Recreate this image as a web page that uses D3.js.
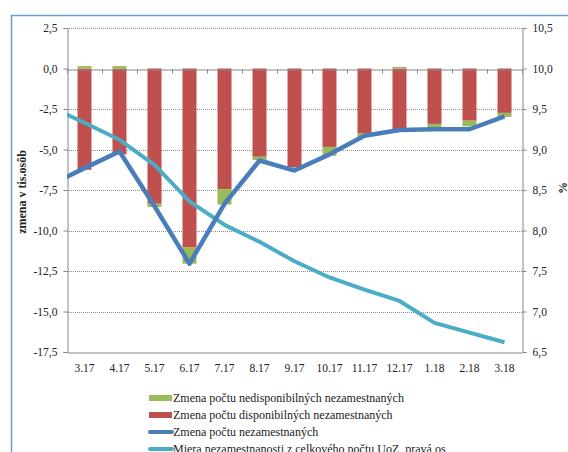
<!DOCTYPE html>
<html>
<head>
<meta charset="utf-8">
<script src="https://cdn.jsdelivr.net/npm/d3@7"></script>
<style>
  body { margin: 0; background: #fff; }
  svg { display: block; font-family: "Liberation Serif", "Times New Roman", serif; }
</style>
</head>
<body>
<div id="chart"></div>
<script>
// months on the category axis
const months = ['3.17', '4.17', '5.17', '6.17', '7.17', '8.17', '9.17', '10.17', '11.17', '12.17', '1.18', '2.18', '3.18']
// the lines start one month earlier, that point is clipped at the plot edge
const lineMonths = ['2.17', ...months]

// change in thousands of persons (left axis)
const nedisponibilni = [0.15, 0.15, -0.2, -1.0, -0.95, -0.2, -0.12, -0.55, -0.2, 0.1, -0.3, -0.35, -0.25]
const disponibilni = [-6.25, -5.3, -8.35, -11.05, -7.45, -5.45, -6.1, -4.84, -4.02, -3.77, -3.42, -3.22, -2.74]
const nezamestnani = [-7.2, -6.15, -5.12, -8.5, -12.05, -8.35, -5.68, -6.3, -5.3, -4.15, -3.8, -3.75, -3.75, -2.95]
// unemployment rate in % (right axis)
const miera = [9.53, 9.33, 9.12, 8.81, 8.36, 8.07, 7.86, 7.62, 7.42, 7.27, 7.13, 6.86, 6.74, 6.62]

const leftTicks = [2.5, 0, -2.5, -5, -7.5, -10, -12.5, -15, -17.5]
const rightTicks = [10.5, 10, 9.5, 9, 8.5, 8, 7.5, 7, 6.5]

const legendItems = [
  { label: 'Zmena počtu nedisponibilných nezamestnaných', color: '#9bbb59', kind: 'bar' },
  { label: 'Zmena počtu disponibilných nezamestnaných', color: '#c0504d', kind: 'bar' },
  { label: 'Zmena počtu nezamestnaných', color: '#4a7ebb', kind: 'line' },
  { label: 'Miera nezamestnanosti z celkového počtu UoZ, pravá os', color: '#4bacc6', kind: 'line' },
]

const width = 568
const height = 452
const margin = { top: 28, right: 46, bottom: 100, left: 67 }
const plotRight = width - margin.right
const plotBottom = height - margin.bottom

const fmt = (v) => d3.format('.1f')(v).replace('.', ',').replace('−', '-')

const svg = d3.select('#chart')
  .append('svg')
  .attr('width', width)
  .attr('height', height)

// outer chart frame
svg.append('rect')
  .attr('x', 11.5)
  .attr('y', 15.5)
  .attr('width', width + 20)
  .attr('height', height + 20)
  .attr('fill', 'none')
  .attr('stroke', '#6a9bd6')
  .attr('stroke-width', 1.5)

const x = d3.scaleBand()
  .domain(months)
  .range([margin.left, plotRight])
  .paddingInner(0.6)
  .paddingOuter(0.3)

const step = x.step()
const xLine = d3.scaleBand()
  .domain(lineMonths)
  .range([margin.left - step, plotRight])
  .paddingInner(0.6)
  .paddingOuter(0.3)

const y = d3.scaleLinear().domain([-17.5, 2.5]).range([plotBottom, margin.top])
const y2 = d3.scaleLinear().domain([6.5, 10.5]).range([plotBottom, margin.top])

// dotted gridlines
svg.append('g')
  .selectAll('line')
  .data(leftTicks.filter((d) => d !== 0 && d !== -17.5))
  .join('line')
  .attr('x1', margin.left)
  .attr('x2', plotRight)
  .attr('y1', (d) => Math.round(y(d)) + 0.5)
  .attr('y2', (d) => Math.round(y(d)) + 0.5)
  .attr('stroke', '#8c8c8c')
  .attr('stroke-dasharray', '1,1')

// left axis
const leftAxis = svg.append('g')
  .attr('transform', `translate(${margin.left + 0.5},0)`)
  .call(d3.axisLeft(y).tickValues(leftTicks).tickFormat(fmt).tickSize(4).tickPadding(6))
leftAxis.select('.domain').attr('stroke', '#868686')
leftAxis.selectAll('.tick line').attr('stroke', '#868686')
leftAxis.selectAll('text').attr('font-size', 11.5).attr('fill', '#222').attr('font-family', 'Liberation Serif')

// right axis
const rightAxis = svg.append('g')
  .attr('transform', `translate(${plotRight + 0.5},0)`)
  .call(d3.axisRight(y2).tickValues(rightTicks).tickFormat(fmt).tickSize(4).tickPadding(6))
rightAxis.select('.domain').attr('stroke', '#868686')
rightAxis.selectAll('.tick line').attr('stroke', '#868686')
rightAxis.selectAll('text').attr('font-size', 11.5).attr('fill', '#222').attr('font-family', 'Liberation Serif')

// plot bottom border + month labels
const bottomAxis = svg.append('g')
  .attr('transform', `translate(0,${plotBottom + 0.5})`)
  .call(d3.axisBottom(x).tickSize(0).tickPadding(11))
bottomAxis.select('.domain').attr('stroke', '#868686')
bottomAxis.selectAll('text').attr('font-size', 11.5).attr('fill', '#222').attr('font-family', 'Liberation Serif')

// stacked bars
const bars = svg.append('g')
months.forEach((m, i) => {
  const red = disponibilni[i]
  const green = nedisponibilni[i]
  bars.append('rect')
    .attr('x', x(m))
    .attr('width', x.bandwidth())
    .attr('y', y(0))
    .attr('height', y(red) - y(0))
    .attr('fill', '#c0504d')
  const g0 = green >= 0 ? 0 : red
  const g1 = g0 + green
  bars.append('rect')
    .attr('x', x(m))
    .attr('width', x.bandwidth())
    .attr('y', y(Math.max(g0, g1)))
    .attr('height', Math.abs(y(g1) - y(g0)))
    .attr('fill', '#9bbb59')
})

// zero line with category ticks
const zeroAxis = svg.append('g')
  .attr('transform', `translate(0,${Math.round(y(0)) + 0.5})`)
  .call(d3.axisBottom(x).tickSize(0).tickFormat(''))
zeroAxis.select('.domain').attr('stroke', '#868686')
zeroAxis.selectAll('.sep')
  .data(d3.range(months.length + 1))
  .join('line')
  .attr('class', 'sep')
  .attr('x1', (d) => Math.round(margin.left + d * step) + 0.5)
  .attr('x2', (d) => Math.round(margin.left + d * step) + 0.5)
  .attr('y1', 0)
  .attr('y2', 4)
  .attr('stroke', '#868686')

// lines, clipped to the plot area
svg.append('clipPath')
  .attr('id', 'plot-clip')
  .append('rect')
  .attr('x', margin.left)
  .attr('y', margin.top)
  .attr('width', plotRight - margin.left)
  .attr('height', plotBottom - margin.top)

const cx = (m) => xLine(m) + xLine.bandwidth() / 2
const lines = svg.append('g').attr('clip-path', 'url(#plot-clip)')

lines.append('path')
  .datum(miera)
  .attr('d', d3.line().x((d, i) => cx(lineMonths[i])).y((d) => y2(d)))
  .attr('fill', 'none')
  .attr('stroke', '#4bacc6')
  .attr('stroke-width', 4)
  .attr('stroke-linejoin', 'round')

lines.append('path')
  .datum(nezamestnani)
  .attr('d', d3.line().x((d, i) => cx(lineMonths[i])).y((d) => y(d)))
  .attr('fill', 'none')
  .attr('stroke', '#4a7ebb')
  .attr('stroke-width', 4.5)
  .attr('stroke-linejoin', 'round')

// axis titles
svg.append('text')
  .attr('transform', `translate(26,${(margin.top + plotBottom) / 2 + 2}) rotate(-90)`)
  .attr('text-anchor', 'middle')
  .attr('font-size', 12)
  .attr('font-weight', 'bold')
  .attr('fill', '#222')
  .text('zmena v tis.osôb')

svg.append('text')
  .attr('transform', `translate(567,${(margin.top + plotBottom) / 2 - 2}) rotate(-90)`)
  .attr('text-anchor', 'middle')
  .attr('font-size', 12)
  .attr('font-weight', 'bold')
  .attr('fill', '#222')
  .text('%')

// legend
const legend = svg.append('g').attr('transform', 'translate(149,398)')
const rows = legend.selectAll('g')
  .data(legendItems)
  .join('g')
  .attr('transform', (d, i) => `translate(0,${i * 17})`)

rows.filter((d) => d.kind === 'bar')
  .append('rect')
  .attr('x', 0)
  .attr('y', -3)
  .attr('width', 23)
  .attr('height', 6)
  .attr('fill', (d) => d.color)

rows.filter((d) => d.kind === 'line')
  .append('line')
  .attr('x1', 1)
  .attr('x2', 23)
  .attr('y1', 0)
  .attr('y2', 0)
  .attr('stroke', (d) => d.color)
  .attr('stroke-width', 4)
  .attr('stroke-linecap', 'round')

rows.append('text')
  .attr('x', 24)
  .attr('y', 4)
  .attr('font-size', 12)
  .attr('fill', '#222')
  .text((d) => d.label)
</script>
</body>
</html>
